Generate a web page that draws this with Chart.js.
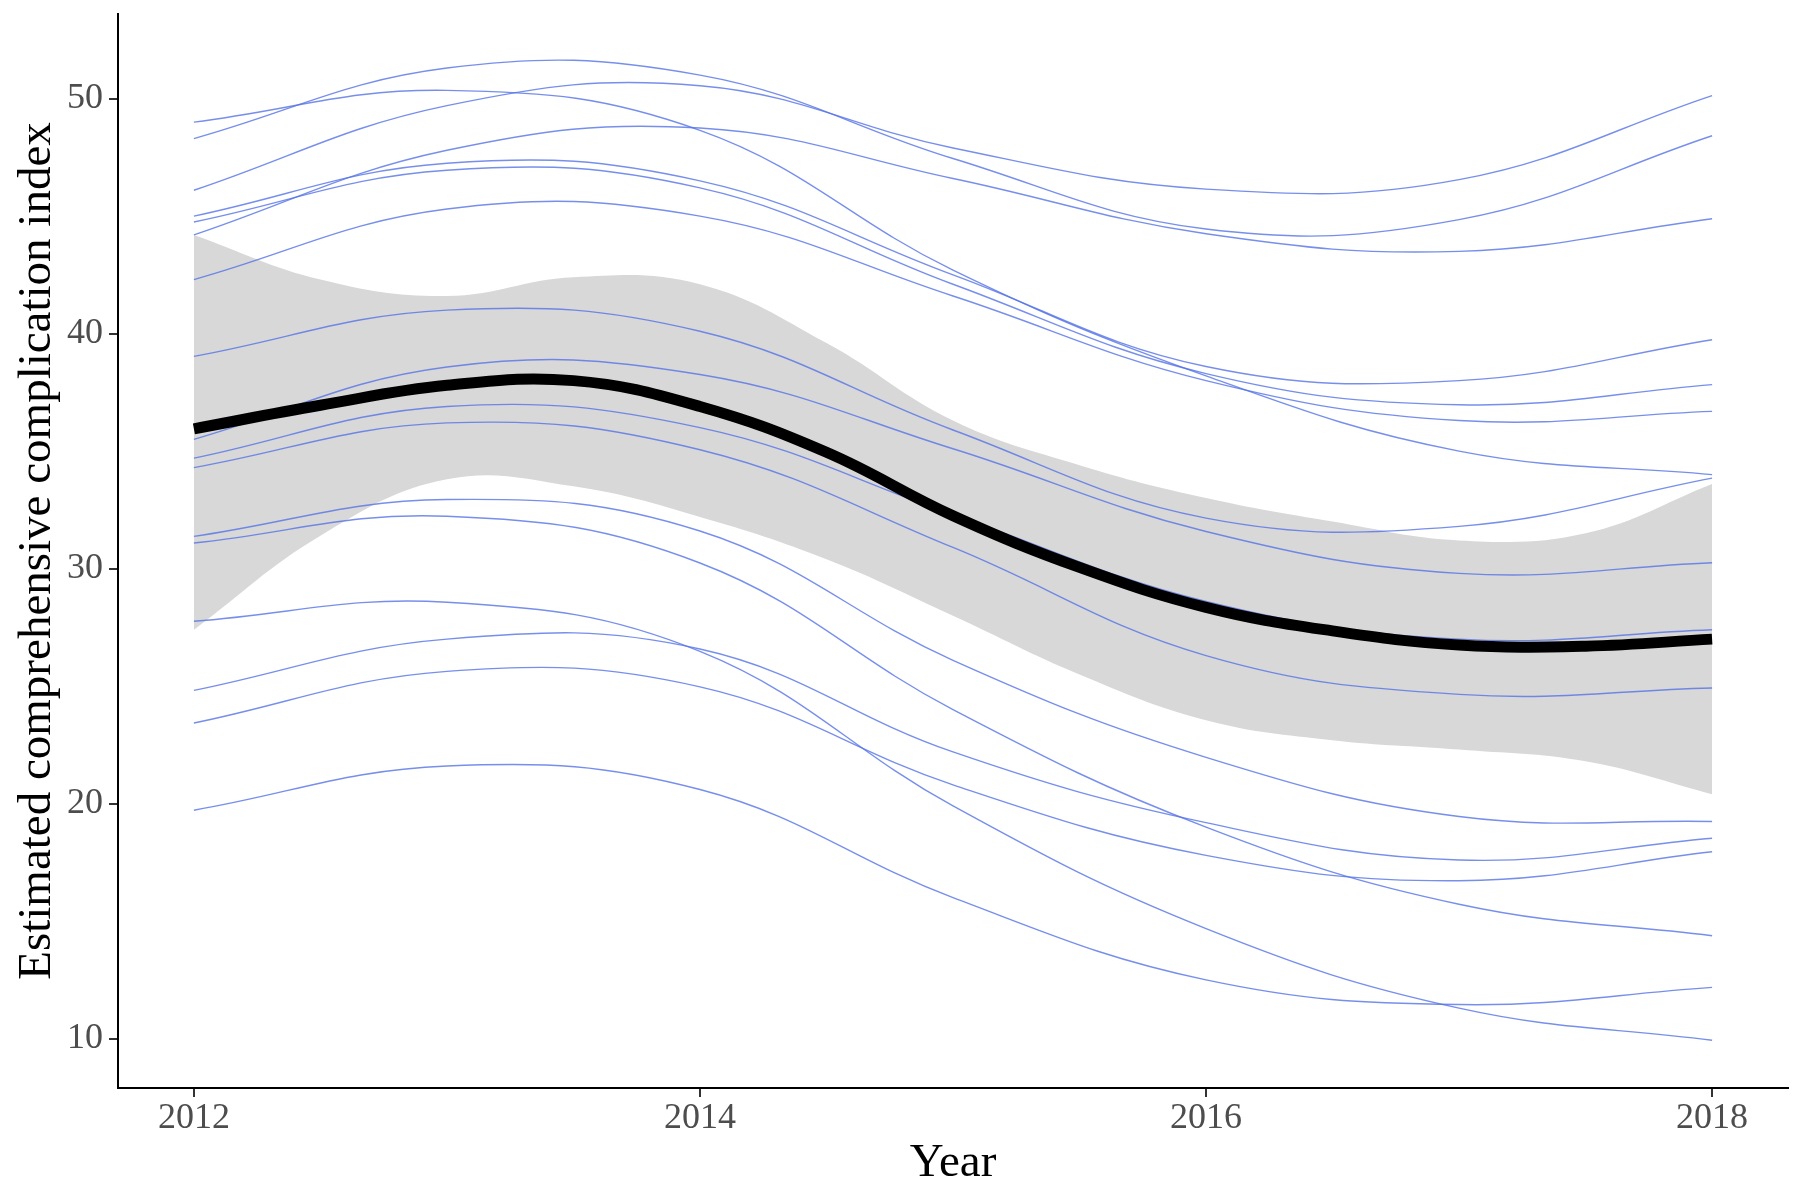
<!DOCTYPE html>
<html>
<head>
<meta charset="utf-8">
<script src="https://cdn.jsdelivr.net/npm/chart.js@4.4.0/dist/chart.umd.min.js"></script>
<style>
  html, body { margin: 0; padding: 0; background: #fff; }
  #wrap { width: 1800px; height: 1189px; position: relative; }
</style>
</head>
<body>
<div id="wrap"><canvas id="chart"></canvas></div>
<script>
// yearly points for the individual hospital curves
const years = [2012, 2013, 2014, 2015, 2016, 2017, 2018];
// half-year points for the pooled fit and its band
const yearsFine = [2012, 2012.5, 2013, 2013.5, 2014, 2014.5, 2015, 2015.5, 2016, 2016.5, 2017, 2017.5, 2018];
const xTicks = [2012, 2014, 2016, 2018];
const yTicks = [10, 20, 30, 40, 50];

const meanFit   = [35.95, 36.95, 37.8, 38.0, 36.9, 34.95, 32.25, 30.05, 28.35, 27.35, 26.75, 26.7, 27.0];
const bandUpper = [44.2, 42.3, 41.6, 42.4, 42.1, 39.6, 36.3, 34.4, 33.0, 32.0, 31.2, 31.5, 33.6];
const bandLower = [27.4, 31.4, 33.8, 33.5, 32.2, 30.4, 28.0, 25.5, 23.55, 22.7, 22.3, 21.8, 20.4];

const lineA = [49.0, 50.35, 48.65, 42.7, 38.2, 35.0, 34.0];
const lineB = [48.3, 51.3, 51.0, 47.45, 44.45, 44.85, 48.42];
const lineC = [46.1, 49.7, 50.55, 47.9, 46.15, 46.55, 50.13];
const lineD = [45.0, 47.25, 46.5, 42.5, 38.6, 38.0, 39.74];
const lineE = [44.75, 46.95, 46.2, 42.1, 38.3, 36.97, 37.83];
const lineF = [44.2, 47.8, 48.75, 46.6, 44.25, 43.5, 44.89];
const lineG = [42.3, 45.3, 45.0, 41.6, 38.0, 36.3, 36.69];
const lineH = [39.03, 41.0, 40.1, 35.9, 32.15, 31.8, 33.85];
const lineI = [35.5, 38.58, 38.26, 35.1, 31.58, 29.8, 30.25];
const lineJ = [34.7, 36.9, 36.0, 32.3, 28.6, 27.0, 27.4];
const lineK = [34.3, 36.2, 35.06, 30.9, 26.3, 24.65, 24.92];
const lineL = [31.37, 32.94, 31.6, 26.1, 21.97, 19.45, 19.24];
const lineM = [31.09, 32.23, 30.24, 24.0, 19.0, 15.72, 14.38];
const lineN = [27.76, 28.57, 26.48, 19.9, 14.68, 11.3, 9.93];
const lineO = [24.82, 27.0, 26.58, 22.2, 19.19, 17.6, 18.53];
const lineP = [23.43, 25.63, 24.97, 20.8, 17.8, 16.72, 17.95];
const lineQ = [19.72, 21.6, 20.6, 16.0, 12.5, 11.45, 12.18];

const subjectLines = [lineA, lineB, lineC, lineD, lineE, lineF, lineG, lineH, lineI,
  lineJ, lineK, lineL, lineM, lineN, lineO, lineP, lineQ];

const serif = "'Liberation Serif', 'Times New Roman', serif";

function toPoints(xs, ys) {
  return xs.map((x, i) => ({ x: x, y: ys[i] }));
}

const datasets = [];

// black pooled curve first so it is drawn on top
datasets.push({
  data: toPoints(yearsFine, meanFit),
  borderColor: '#000000',
  borderWidth: 11,
  tension: 0.4,
  pointRadius: 0,
  fill: false
});

subjectLines.forEach(vals => {
  datasets.push({
    data: toPoints(years, vals),
    borderColor: 'rgba(85, 115, 230, 0.8)',
    borderWidth: 1.4,
    tension: 0.4,
    pointRadius: 0,
    fill: false
  });
});

// confidence band
datasets.push({
  data: toPoints(yearsFine, bandUpper),
  borderWidth: 0,
  borderColor: 'rgba(0,0,0,0)',
  backgroundColor: '#d8d8d8',
  tension: 0.4,
  pointRadius: 0,
  fill: '+1'
});
datasets.push({
  data: toPoints(yearsFine, bandLower),
  borderWidth: 0,
  borderColor: 'rgba(0,0,0,0)',
  tension: 0.4,
  pointRadius: 0,
  fill: false
});

const ctx = document.getElementById('chart').getContext('2d');
new Chart(ctx, {
  type: 'line',
  data: { datasets: datasets },
  options: {
    responsive: true,
    maintainAspectRatio: false,
    animation: false,
    layout: { padding: { top: 14, right: 12, left: 0, bottom: 0 } },
    plugins: {
      legend: { display: false },
      tooltip: { enabled: false }
    },
    scales: {
      x: {
        type: 'linear',
        min: 2011.7,
        max: 2018.3,
        afterBuildTicks: (scale) => { scale.ticks = xTicks.map(v => ({ value: v })); },
        afterFit: (scale) => {
          scale.height = 101;
          scale.paddingLeft = 0;
          scale.paddingRight = 0;
        },
        border: { display: true, color: '#000', width: 2 },
        grid: { drawOnChartArea: false, drawTicks: true, tickLength: 9, color: '#333', lineWidth: 2 },
        ticks: {
          padding: 0,
          color: '#4d4d4d',
          font: { family: serif, size: 36 },
          maxRotation: 0,
          callback: (v) => String(v)
        },
        title: {
          display: true,
          text: 'Year',
          color: '#000',
          font: { family: serif, size: 47 },
          padding: { top: 0, bottom: -3 }
        }
      },
      y: {
        type: 'linear',
        min: 7.9,
        max: 53.6,
        afterBuildTicks: (scale) => { scale.ticks = yTicks.map(v => ({ value: v })); },
        afterFit: (scale) => {
          scale.width = 118;
          scale.paddingTop = 0;
          scale.paddingBottom = 0;
        },
        border: { display: true, color: '#000', width: 2 },
        grid: { drawOnChartArea: false, drawTicks: true, tickLength: 9, color: '#333', lineWidth: 2 },
        ticks: {
          padding: 6,
          color: '#4d4d4d',
          font: { family: serif, size: 36 },
          callback: (v) => String(v)
        },
        title: {
          display: true,
          text: 'Estimated comprehensive complication index',
          color: '#000',
          font: { family: serif, size: 47 },
          padding: { top: 9, bottom: 0 }
        }
      }
    }
  }
});
</script>
</body>
</html>
